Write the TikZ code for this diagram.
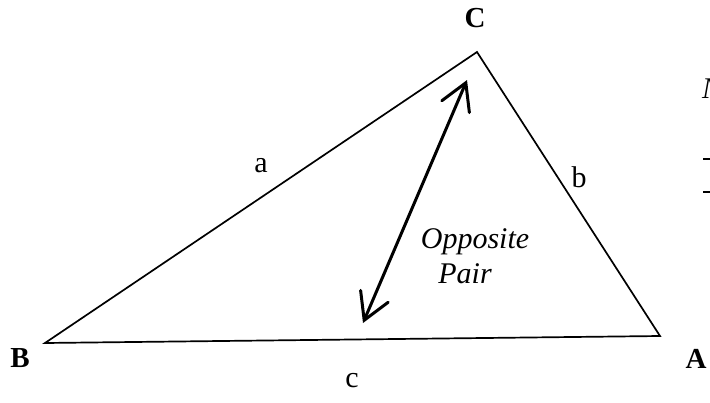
\documentclass[tikz,border=0pt]{standalone}
\usepackage{fontspec}
\setmainfont{Liberation Serif}
\usetikzlibrary{arrows.meta}
\tikzset{
  lbl/.style={inner sep=0pt, anchor=base, font=\fontsize{30}{32}\selectfont},
  vlbl/.style={lbl, font=\fontsize{29}{32}\selectfont\bfseries},
  ilbl/.style={lbl, font=\fontsize{30}{32}\selectfont\itshape},
  side/.style={line width=1.7pt, line join=miter},
  pairtip/.tip={Straight Barb[length=26pt,width=30pt,line cap=round]},
  pair/.style={line width=3pt, line cap=round, {pairtip}-{pairtip}}
}
\begin{document}
\begin{tikzpicture}[x=1pt,y=-1pt]
\useasboundingbox (0,0) rectangle (710,402);
\fill[white] (0,0) rectangle (710,402);
\coordinate (B) at (45,343);
\coordinate (A) at (660,336);
\coordinate (C) at (477,52);
\draw[side] (B) -- (A) -- (C) -- cycle;
\coordinate (p) at (363,323);
\coordinate (q) at (467,80);
\draw[pair] (p) -- (q);
\node[vlbl] (lC) at (475,27) {C};
\node[vlbl] (lB) at (20,367) {B};
\node[vlbl] (lA) at (696,368) {A};
\node[lbl] (la) at (261,172) {a};
\node[lbl] (lb) at (579,187) {b};
\node[lbl] (lc) at (352,387) {c};
\node[ilbl] (opp) at (475,248) {Opposite};
\node[ilbl] (pr) at (465,283) {Pair};
\node[ilbl, anchor=base west] (cut) at (702,98) {N};
\coordinate (d1) at (703,159);
\coordinate (d2) at (703,192);
\draw[line width=1.2pt] (d1) -- ++(12,0);
\draw[line width=1.2pt] (d2) -- ++(12,0);
\end{tikzpicture}
\end{document}
